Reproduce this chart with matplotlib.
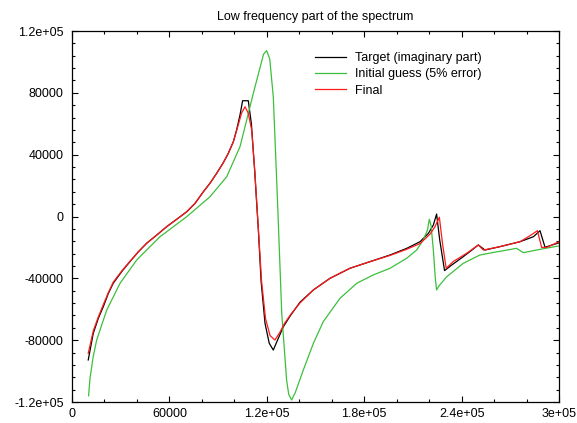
import matplotlib
matplotlib.use("Agg")
import matplotlib.pyplot as plt
from matplotlib.ticker import MultipleLocator, FixedLocator, FixedFormatter

plt.rcParams['font.family'] = ['Liberation Sans', 'DejaVu Sans']

title = "Low frequency part of the spectrum"
series_names = ["Target (imaginary part)", "Initial guess (5% error)", "Final"]

target_x = [10000, 13100, 16200, 19300, 22400, 25400, 30600, 35700, 40900, 46000, 52200,
            58300, 64500, 70700, 75800, 80900, 85000, 89100, 93200, 96300, 99400, 101400,
            103500, 105100, 108600, 110500, 112500, 114800, 116500, 118900, 121500, 124000,
            127000, 130200, 134300, 140400, 148700, 158900, 171200, 183600, 195900, 206200,
            214400, 219500, 222600, 224600, 226500, 229500, 233900, 241000, 246000, 250300,
            254400, 263600, 276000, 284200, 288300, 291400, 300000]
target_y = [-92800, -75600, -65900, -58300, -49700, -43200, -35700, -29200, -22800, -17300, -12000,
            -6600, -1800, 3100, 8500, 16000, 21500, 27900, 34800, 40900, 48400, 56000,
            65700, 74900, 74900, 60000, 30000, -8700, -42000, -69100, -82000, -86400,
            -79000, -71300, -64500, -55500, -47500, -40000, -33500, -29200, -24900, -20600,
            -16300, -11000, -5500, 1600, -15000, -35000, -31400, -26000, -22000, -18400,
            -21700, -19500, -16300, -13100, -9200, -19900, -17000]

guess_x = [10200, 11100, 13000, 15200, 21400, 29600, 39900, 54200, 70700, 85000, 95300,
           103500, 107600, 111700, 116000, 118000, 119900, 121800, 124000, 126500, 129200,
           132200, 133500, 135300, 137500, 142500, 148700, 154800, 165100, 175400, 185600,
           195900, 206200, 212300, 216400, 219000, 220100, 221200, 222600, 223800, 224600,
           226000, 230800, 241000, 251300, 262000, 273900, 278000, 288000, 299600]
guess_y = [-116000, -104700, -91000, -79900, -60500, -43200, -28100, -13100, -100, 12800, 25700,
           45200, 62400, 79700, 97000, 105000, 107300, 102000, 77500, 12800, -62600,
           -105800, -115000, -118700, -114000, -99300, -82000, -68000, -52900, -43200, -37800,
           -33500, -27000, -21700, -15200, -8700, -1800, -6000, -21700, -40000, -47500,
           -45000, -39000, -30300, -24900, -22800, -20600, -23400, -21300, -19100]

final_x = [10000, 13100, 16200, 19300, 22400, 25400, 30600, 35700, 40900, 46000, 52200,
           58300, 64500, 70700, 75800, 80900, 85000, 89100, 93200, 96300, 99400, 101400,
           104500, 106600, 108500, 110700, 112700, 114800, 116800, 119200, 122000, 125000,
           128000, 131000, 135000, 140400, 148700, 158900, 171200, 183600, 195900, 206200,
           214400, 220500, 223600, 226300, 228300, 230500, 235000, 243100, 250300, 253400,
           263600, 276000, 282000, 286700, 289300, 292400, 300000]
final_y = [-88500, -74000, -65000, -57000, -49200, -42500, -35300, -29000, -22800, -17300, -12000,
           -6600, -1800, 3100, 8500, 16000, 21500, 27900, 34800, 40900, 48400, 55500,
           67000, 71000, 67000, 56000, 28000, -8000, -42000, -66000, -77000, -79900,
           -75000, -69000, -63000, -56000, -47500, -40000, -33500, -29200, -25200, -21200,
           -17500, -11500, -6600, -500, -18000, -33500, -29000, -23800, -18400, -21700,
           -19500, -16300, -12500, -9200, -20000, -20000, -16300]

x_ticks = [0, 60000, 120000, 180000, 240000, 300000]
x_tick_labels = ["0", "60000", "1.2e+05", "1.8e+05", "2.4e+05", "3e+05"]
y_ticks = [-120000, -80000, -40000, 0, 40000, 80000, 120000]
y_tick_labels = ["-1.2e+05", "-80000", "-40000", "0", "40000", "80000", "1.2e+05"]

fig = plt.figure(figsize=(5.77, 4.23), dpi=100)
ax = fig.add_axes([72/577, 1-402/423, (559-72)/577, (402-31)/423])

ax.plot(target_x, target_y, color='black', lw=0.9, label=series_names[0])
ax.plot(guess_x, guess_y, color='#3cbf3c', lw=0.9, label=series_names[1])
ax.plot(final_x, final_y, color='#ff1a1a', lw=0.9, label=series_names[2])

ax.set_xlim(0, 300000)
ax.set_ylim(-120000, 120000)
ax.xaxis.set_major_locator(FixedLocator(x_ticks))
ax.xaxis.set_major_formatter(FixedFormatter(x_tick_labels))
ax.yaxis.set_major_locator(FixedLocator(y_ticks))
ax.yaxis.set_major_formatter(FixedFormatter(y_tick_labels))
ax.xaxis.set_minor_locator(MultipleLocator(20000))
ax.yaxis.set_minor_locator(MultipleLocator(8000))
ax.tick_params(which='both', direction='in', top=True, right=True, labelsize=9, width=0.8)
ax.tick_params(which='major', length=4.5)
ax.tick_params(which='minor', length=2.2)
ax.tick_params(axis='y', which='major', pad=6)
ax.tick_params(axis='x', which='major', pad=4)
for s in ax.spines.values():
    s.set_linewidth(0.9)

ax.set_title(title, fontsize=9, pad=8)

fig.legend(loc='upper left', bbox_to_anchor=(315/577, 1-52/423), frameon=False,
           fontsize=9, handlelength=2.5, handletextpad=0.7, labelspacing=0.35,
           borderpad=0, borderaxespad=0)

fig.savefig('out.png', dpi=100)
